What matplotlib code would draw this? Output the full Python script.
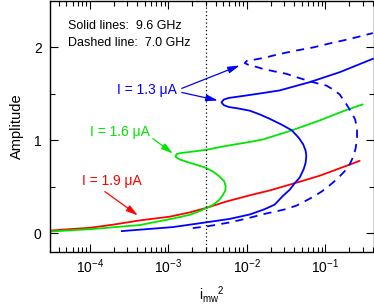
import matplotlib
matplotlib.use("Agg")
import matplotlib.pyplot as plt

plt.rcParams['font.family'] = ['Liberation Sans', 'DejaVu Sans']
plt.rcParams['mathtext.fontset'] = 'custom'
plt.rcParams['mathtext.rm'] = 'Liberation Sans'
plt.rcParams['mathtext.it'] = 'Liberation Sans:italic'

# I = 1.9 uA, 9.6 GHz
red_x = [3.09e-5, 5.57e-5, 1e-4, 2.08e-4, 4.33e-4, 1.04e-3, 1.87e-3, 3.08e-3,
         5.53e-3, 1.09e-2, 1.95e-2, 4.06e-2, 8.43e-2, 0.152, 0.272]
red_y = [0.03, 0.046, 0.06, 0.097, 0.14, 0.18, 0.226, 0.276,
         0.344, 0.41, 0.462, 0.54, 0.62, 0.70, 0.78]

# I = 1.6 uA, 9.6 GHz
green_x = [3.09e-5, 1e-4, 4.33e-4, 1.14e-3, 1.87e-3, 2.51e-3, 3.08e-3, 3.68e-3,
           4.38e-3, 4.92e-3, 5.30e-3, 5.37e-3, 5.14e-3, 4.51e-3, 3.68e-3,
           2.91e-3, 2.23e-3, 1.71e-3, 1.40e-3, 1.26e-3, 1.23e-3, 1.28e-3,
           1.48e-3, 1.87e-3, 3.08e-3, 4.92e-3, 1.09e-2, 1.59e-2, 3.72e-2,
           8.43e-2, 0.175, 0.297]
green_y = [0.02, 0.045, 0.09, 0.16, 0.20, 0.24, 0.275, 0.306,
           0.355, 0.41, 0.46, 0.505, 0.56, 0.61, 0.667,
           0.71, 0.74, 0.77, 0.795, 0.817, 0.833, 0.855,
           0.866, 0.876, 0.90, 0.935, 0.984, 1.01, 1.108,
           1.215, 1.32, 1.387]

# I = 1.3 uA, 9.6 GHz
blue_x = [2.55e-4, 4.33e-4, 1.14e-3, 3.08e-3, 6.04e-3, 1.09e-2, 1.68e-2, 2.26e-2,
          2.85e-2, 3.51e-2, 4.06e-2, 4.70e-2, 5.28e-2, 5.60e-2, 5.71e-2,
          5.60e-2, 5.20e-2, 4.56e-2, 3.72e-2, 2.77e-2, 1.95e-2, 1.46e-2,
          1.09e-2, 7.64e-3, 5.86e-3, 5.07e-3, 4.74e-3, 5.07e-3, 5.86e-3,
          9.86e-3, 1.46e-2, 2.61e-2, 6.30e-2, 0.152, 0.402]
blue_y = [0.025, 0.04, 0.068, 0.12, 0.156, 0.204, 0.26, 0.31,
          0.40, 0.47, 0.54, 0.60, 0.69, 0.76, 0.83,
          0.89, 0.96, 1.03, 1.11, 1.17, 1.233, 1.28,
          1.32, 1.345, 1.36, 1.38, 1.41, 1.44, 1.457,
          1.484, 1.505, 1.538, 1.627, 1.734, 1.878]

# I = 1.3 uA, 7.0 GHz
dash_x = [2.04e-3, 3.08e-3, 6.04e-3, 9.93e-3, 1.68e-2, 3.03e-2, 4.31e-2, 6.87e-2,
          8.95e-2, 0.113, 0.143, 0.175, 0.203, 0.225, 0.242, 0.253, 0.253,
          0.239, 0.215, 0.186, 0.152, 0.124, 0.103, 7.96e-2, 6.30e-2, 4.43e-2,
          3.18e-2, 2.26e-2, 1.60e-2, 1.26e-2, 1.02e-2, 9.38e-3, 9.93e-3,
          1.26e-2, 1.68e-2, 2.61e-2, 4.31e-2, 6.93e-2, 0.113, 0.184, 0.272, 0.402]
dash_y = [0.057, 0.075, 0.118, 0.16, 0.21, 0.258, 0.30, 0.39,
          0.45, 0.516, 0.59, 0.667, 0.74, 0.82, 0.91, 1.02, 1.13,
          1.226, 1.30, 1.387, 1.495, 1.55, 1.59, 1.613, 1.637, 1.677,
          1.717, 1.742, 1.77, 1.796, 1.817, 1.833, 1.855,
          1.87, 1.89, 1.93, 1.968, 2.0, 2.043, 2.083, 2.118, 2.155]

i_marker = 3e-3

fig = plt.figure(figsize=(3.74, 3.08), dpi=100)
ax = fig.add_axes([50 / 374, 56 / 308, 323.5 / 374, 251 / 308])

lw = 1.3
ax.plot(red_x, red_y, color='#ff0000', lw=lw)
ax.plot(green_x, green_y, color='#00e600', lw=lw)
ax.plot(blue_x, blue_y, color='#0000ff', lw=lw)
ax.plot(dash_x, dash_y, color='#0000ff', lw=lw, linestyle=(0, (4.5, 3.5)))
ax.axvline(i_marker, color='black', lw=0.9, linestyle=(0, (1, 2)))

ax.set_xscale('log')
ax.set_xlim(3.1e-5, 0.41)
ax.set_ylim(-0.2, 2.5)
ax.set_yticks([0, 1, 2])
ax.set_yticks([0.5, 1.5], minor=True)

ax.tick_params(which='both', direction='in', top=True, right=True, labelsize=10)
ax.tick_params(which='major', length=6, width=0.8)
ax.tick_params(which='minor', length=3.5, width=0.8)
ax.tick_params(axis='y', pad=6)
ax.tick_params(axis='x', pad=4)
for s in ax.spines.values():
    s.set_linewidth(1.0)

ax.set_ylabel('Amplitude', fontsize=10.5, labelpad=7)
ax.set_xlabel(r'$\mathrm{i}_{\mathrm{mw}}{}^{2}$', fontsize=10, labelpad=6)

ax.text(0.056, 0.90, 'Solid lines:  9.6 GHz', transform=ax.transAxes,
        fontsize=9, va='center', ha='left')
ax.text(0.056, 0.833, 'Dashed line:  7.0 GHz', transform=ax.transAxes,
        fontsize=9, va='center', ha='left')

ax.text(0.393, 0.647, 'I = 1.3 \u03bcA', transform=ax.transAxes,
        fontsize=10, color='#0000ff', va='center', ha='right')
ax.text(0.310, 0.480, 'I = 1.6 \u03bcA', transform=ax.transAxes,
        fontsize=10, color='#00e600', va='center', ha='right')
ax.text(0.285, 0.282, 'I = 1.9 \u03bcA', transform=ax.transAxes,
        fontsize=10, color='#ff0000', va='center', ha='right')

arrow = '-|>,head_length=0.7,head_width=0.2'
def pointer(tip, start, color):
    ax.annotate('', xy=tip, xytext=start,
                arrowprops=dict(arrowstyle=arrow, color=color, lw=0.9,
                                shrinkA=0, shrinkB=0, mutation_scale=10))

pointer((8.09e-3, 1.806), (1.48e-3, 1.56), '#0000ff')
pointer((4.26e-3, 1.43), (1.48e-3, 1.516), '#0000ff')
pointer((1.14e-3, 0.86), (6.34e-4, 1.02), '#00e600')
pointer((4.08e-4, 0.194), (1.55e-4, 0.45), '#ff0000')

fig.savefig('out.png', dpi=100)
